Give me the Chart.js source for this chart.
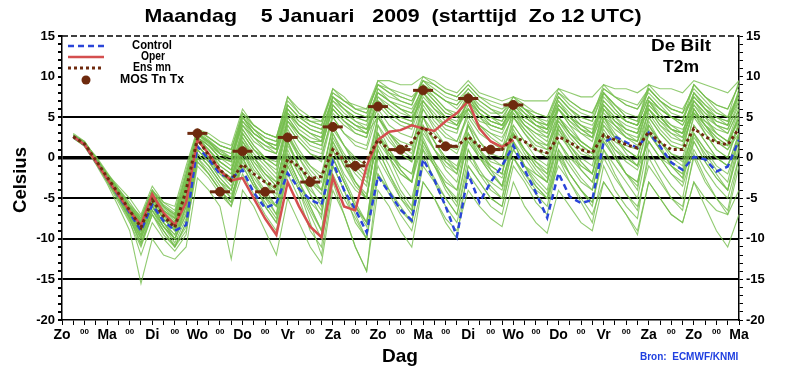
<!DOCTYPE html>
<html>
<head>
<meta charset="utf-8">
<script src="https://cdn.jsdelivr.net/npm/chart.js@4.4.1/dist/chart.umd.min.js"></script>
<style>
  body { margin: 0; background: #fff; }
  canvas { display: block; }
</style>
</head>
<body>
<canvas id="plume" width="800" height="376"></canvas>
<script>
// 6-hourly steps, step 0 = Zo 12 UTC, step 60 = Ma 12 UTC (15 days later)
const dayNames = ['Zo', 'Ma', 'Di', 'Wo', 'Do', 'Vr', 'Za', 'Zo', 'Ma', 'Di', 'Wo', 'Do', 'Vr', 'Za', 'Zo', 'Ma']
const yTicks = [15, 10, 5, 0, -5, -10, -15, -20]
const blackLines = [5, 0, -5, -10, -15]

// values for steps 1..60
const control = [2.6, 1.6, -0.5, -2.6, -4.7, -6.8, -9, -5.8, -7.8, -9, -8.3,
    1.4, -0.2, -2, -2.5, -1.5, -4.3, -6.2, -5.6, -1.9, -3.8, -5.2, -5.8,
    -0.5, -4, -6.4, -9.2, -2.3, -4.3, -6.4, -7.7, -0.2, -2.7, -6, -9.7,
    -2, -5.5, -3, -1, 1.5, -1.5, -4.3, -7.4, -1.9, -4.8, -5.6, -5.2,
    1.9, 2.6, 1.9, 1.2, 3.1, 1.4, -0.6, -1.5, 0.1, -0.2, -1.7, -1.1, 2.2]

// steps 1..40
const oper = [2.6, 1.6, -0.5, -2.6, -4.6, -6.6, -8.3, -4.5, -6.8, -8.3, -5.5,
    2.2, 0.5, -1.6, -2.8, -2.5, -5, -7.5, -9.5, -3, -6, -8.5, -9.8,
    -2.4, -6, -6.5, -1, 2.2, 3.2, 3.4, 4, 3.6, 3.3, 4.5, 5.5,
    7, 3.6, 2, 1.3, 2.2]

const ensMean = [2.6, 1.7, -0.3, -2.4, -4.4, -6.5, -8.6, -5.2, -7.2, -8.6, -4,
    2.4, 0.3, -1.5, -2.8, -0.8, -2, -3, -3.6, -0.2, -1.1, -2.6, -2.3,
    1, -0.3, -1.5, -0.3, 2.2, 1, 0.9, 1.9, 3.8, 2.6, 1.5, 1.4,
    2.6, 1.4, 1, 1, 2.6, 2, 1, 0.6, 2.6, 1.9, 1, 0.6,
    2.8, 2.2, 1.6, 1.2, 3.2, 1.9, 1, 1, 3.6, 2.6, 1.9, 1.6, 3.6]

const mosSteps = [12, 14, 16, 18, 20, 22, 24, 26, 28, 30, 32, 34, 36, 38, 40]
const mosValues = [3, -4.2, 0.8, -4.2, 2.5, -3, 3.8, -1, 6.3, 1, 8.3, 1.4, 7.3, 1, 6.5]

// ensemble members, steps 1..60
const m1 = [3, 2, 0, -2, -3.5, -5, -7, -3.5, -5.5, -6, -1, 3.5, 3, 2, 1.5, 6, 4, 3, 2.5, 7.5, 5.5, 4.5, 4.5, 8.5, 7.5, 6, 6, 9.5, 9.5, 9, 9, 10, 9.5, 8.5, 8, 9.5, 8, 7.5, 7, 7.5, 7, 7, 7, 8.5, 8, 7.5, 7.5, 9, 8.5, 8.5, 8, 9, 8.5, 8.5, 8, 9.5, 9, 8.5, 8, 9.5]
const m2 = [2.8, 1.8, 0.2, -1.8, -3.8, -5.5, -7.5, -4, -6, -7, -2, 3, 2, 1, 0, 5, 3.5, 2.5, 2, 6.5, 5, 4.5, 4, 8, 7, 6.5, 6, 9, 8.5, 8, 7.5, 9, 8, 7, 6, 8, 6, 5, 4, 6, 5, 4, 3.5, 7, 5.5, 4, 3, 6.5, 5, 3.5, 3, 7, 6, 5, 4.5, 8, 6.5, 5, 4.5, 7]
const m3 = [2.6, 1.5, -0.2, -2.2, -4, -6, -8, -4.5, -6.5, -7.5, -3, 3, 1.5, 0, -0.5, 4.5, 2.5, 1, 0.5, 5.5, 4, 3, 2.5, 7, 5.5, 4.5, 4, 8.5, 7.5, 7, 6.5, 9.5, 8, 7, 6.5, 8, 6.5, 5.5, 5.5, 7, 6, 4.5, 3.5, 7.5, 6, 5, 4.5, 8.5, 7.5, 6.5, 6, 8, 6.5, 5, 4, 6.5, 5, 4, 3, 6]
const m4 = [2.5, 1.6, -0.4, -2.5, -4.5, -6.5, -8.8, -5, -7, -8.5, -4, 2.5, 1, -1, -2, 3, 1, 0, -0.5, 4.5, 3, 2, 2, 6, 4.5, 3.5, 3, 7, 6, 5, 4.5, 8, 6.5, 5, 4, 6, 4, 3, 2.5, 5, 3.5, 2, 1.5, 4.5, 3, 2, 1, 5, 4, 3, 2.5, 6.5, 5, 4, 3.5, 5.5, 4, 3, 2, 4.5]
const m5 = [2.7, 1.7, -0.5, -2.7, -5, -7.5, -10, -6, -8, -10, -6, 1.5, 0, -2, -3, 1.5, -1, -3, -4, 2, -1, -3, -4, 3, 0.5, -1.5, -3, 5, 3, 1.5, 1, 7, 5, 4, 3.5, 6, 4.5, 4, 3.5, 6, 4.5, 3.5, 2.5, 6, 4, 2, 1, 4, 2.5, 1, 0, 5, 3, 1.5, 1, 6, 4, 2, 1, 4]
const m6 = [2.4, 1.5, -0.6, -3, -5.5, -8, -11, -7, -9, -11, -8, 0.5, -1, -3, -4.5, -1, -3.5, -5, -6, 0, -3, -5.5, -7, 1, -2, -4, -5, 3, 1, -1, -2, 4, 2, 0, -1, 3, 1, -0.5, -1, 3, 1, -1, -2, 3.5, 1, -1.5, -3, 2, 0, -2, -3, 3, 1, -0.5, -1.5, 4, 2, 0, -1, 3]
const m7 = [2.5, 1.4, -0.8, -3.2, -6, -9, -15.5, -10, -12, -12.5, -11, -2.5, -4, -6, -12.5, -4, -6, -9, -12, -5, -8, -11, -13, -4, -7, -11, -14, -2, -4, -6, -8, -1, -3, -5, -7, 0, -2, -3, -4, 1, -1, -2, -3, 2, 0, -1, -2, 3, 1, 0, -1, 2, 0, -1, -2, 3, 1, 0, -1, 2]
const m8 = [2.6, 1.6, -0.4, -2.8, -5, -7.5, -10.5, -6.5, -9, -11, -9, -1, -2.5, -4.5, -6, 0, -3, -6, -8, -2, -5, -9, -11, -1, -4, -8, -10, 1, -2, -5, -7, 2, -1, -4, -6, 1, -2, -4, -5, 2, 0, -2, -3, 3, 1, -1, -2, 4, 2, 1, 0, 5, 3, 1.5, 1, 6, 4, 2, 1.5, 5]
const m9 = [2.8, 1.9, -0.1, -2.2, -4.2, -6.2, -8, -5, -7, -8.5, -5, 1.5, 0, -1.5, -2.5, 2, 0, -1.5, -3, 2.5, 0, -2, -4, 0, -3, -6, -8, -1, -4, -6.5, -8, 0, -2.5, -5, -7, -1, -3, -5, -6, 0, -2, -4, -5, -1, -3, -5, -7, -3, -5, -7, -9, -3, -5, -7, -8, -3, -6, -9, -11, -7]
const m10 = [2.7, 1.8, -0.2, -2.3, -4.3, -6.3, -8.3, -5, -7, -8, -3.5, 2.5, 1.5, 0, -1, 3.5, 1.5, 0, -1, 4, 2, 0.5, -0.5, 5, 3, 2, 1.5, 6.5, 5, 4, 3.5, 7.5, 6, 4.5, 4, 7, 5, 3.5, 3, 6, 4.5, 3.5, 3, 6.5, 5, 4, 3.5, 7, 5.5, 4.5, 4, 6, 4.5, 3, 2, 5.5, 4.5, 3.5, 3, 6]
const m11 = [2.5, 1.5, -0.5, -2.6, -4.6, -6.8, -9, -5.5, -7.5, -9, -5, 2, 0.5, -1.5, -2.5, 2.5, 0, -2, -3.5, 3, 0, -2.5, -4, 2, -1, -3.5, -5, 3, 0, -2, -3, 4, 1, -1.5, -3, 3, 0.5, -1, -2, 4, 2, 0, -1, 5, 3, 1.5, 0.5, 6, 4, 2.5, 2, 7, 5, 3.5, 3, 8, 6, 4, 3.5, 7]
const m12 = [2.6, 1.7, -0.3, -2.4, -4.4, -6.4, -8.4, -5, -7, -8.5, -4.5, 2.5, 1.5, 0.5, 0, 4.5, 3, 2, 1.5, 6, 4.5, 3.5, 3, 7.5, 6.5, 5.5, 5, 9.5, 8.5, 7.5, 7, 9.5, 9, 8, 7.5, 9, 7.5, 7, 6.5, 7, 6, 5, 4.5, 8, 7, 6, 5.5, 8.5, 7.5, 7, 6.5, 8.5, 7, 6, 5.5, 7.5, 6, 5, 4.5, 8]
const m13 = [2.5, 1.6, -0.4, -2.5, -4.7, -7, -9.5, -6, -8, -9.5, -6, 1, -0.5, -2, -3, 1.5, -0.5, -2, -3, 2.5, 0.5, -1, -2, 3.5, 1.5, 0, -1, 5, 3, 2, 1.5, 6, 4, 2.5, 2, 5, 3, 2, 1, 4, 2, 1, 0.5, 5, 3.5, 2, 1, 6, 4.5, 3.5, 3, 7, 5.5, 4, 3, 5.5, 3.5, 2, 1, 3]
const m14 = [2.7, 1.8, -0.2, -2.2, -4.2, -6.1, -7.5, -4, -6, -7, -2.5, 3, 2, 0.5, 0, 5, 3, 2, 1.5, 5.5, 3.5, 2.5, 2, 6.5, 5, 4, 3.5, 8, 7, 6, 5.5, 9, 7.5, 6, 5.5, 7.5, 5.5, 4.5, 4, 6.5, 5, 4, 3.5, 7, 5, 4, 3, 8, 6, 4.5, 4, 8.5, 7, 6, 5.5, 9, 7.5, 6, 5, 9.5]
const m15 = [2.4, 1.4, -0.7, -2.9, -5.2, -7.8, -12, -8, -10, -11.5, -9.5, 0, -1.5, -3.5, -5, -0.5, -3, -5, -7, 0, -3, -6, -9, -2, -5, -7.5, -10, -2, -4.5, -7, -9, -3, -5, -7.5, -9, -4, -6, -7.5, -8.5, -3, -6, -8, -9.3, -4, -6, -8, -9, -3, -5, -7, -9.5, -3, -5, -7, -8, -3, -5, -6.5, -7, -4]
const m16 = [2.6, 1.7, -0.3, -2.5, -4.5, -6.6, -8.8, -5.5, -7.5, -9, -5.5, 1.5, 0, -2, -3.5, 1, -1.5, -3, -4.5, 1.5, -1, -3, -4.5, 2.5, 0, -2, -3.5, 4, 2, 0.5, -0.5, 5, 3, 1.5, 1, 6, 4, 3, 2, 5.5, 3.5, 2, 1, 4.5, 2.5, 1, 0, 3.5, 1.5, 0, -1, 4, 2, 0.5, 0, 5, 3, 1, 0, 4]
const m17 = [2.8, 2, 0, -2, -4, -6, -7.8, -4.5, -6.5, -7.5, -3, 3.5, 2.5, 1.5, 1, 5.5, 4, 3, 2.5, 7.5, 6, 5, 4.5, 8, 7, 6, 5.5, 9, 8, 7.5, 7, 9.5, 8.5, 7.5, 7, 8.5, 7, 6, 5, 7, 5.5, 4, 3, 6, 4.5, 3, 2.5, 7, 5.5, 4.5, 4, 7.5, 6, 5, 4, 7, 5.5, 4, 3.5, 6.5]
const m18 = [2.5, 1.5, -0.6, -2.8, -5, -7.2, -10, -6.5, -8.5, -10.5, -7.5, -0.5, -2, -4, -6, -2, -4.5, -7, -9, -1, -4, -7, -10, 0, -3, -6, -8, 2, 0, -2, -3, 3, 1, -1, -2, 4, 2, 0.5, 0, 5, 3, 1.5, 1, 6, 4, 3, 2, 6.5, 4.5, 3, 2, 5.5, 3.5, 2, 1.5, 6, 4, 2.5, 1.5, 5]
const m19 = [2.6, 1.7, -0.3, -2.4, -4.4, -6.5, -8.5, -5, -7, -8.5, -4, 2, 1, -0.5, -1.5, 3, 1, -0.5, -1.5, 4, 2, 0.5, 0, 5.5, 4, 3, 2.5, 7.5, 6, 5, 4.5, 8.5, 7, 5.5, 5, 8, 6, 5, 4.5, 7.5, 6, 5, 4, 6.5, 5, 3.5, 2.5, 5.5, 4, 2.5, 1.5, 4, 2, 0.5, -0.5, 3, 1, -1, -2, 2]
const m20 = [2.7, 1.7, -0.3, -2.3, -4.3, -6.4, -8.2, -5, -7, -8.2, -3.5, 2.5, 1, -0.5, -1.5, 3.5, 1.5, 0, -1, 4.5, 2.5, 1, 0.5, 5, 3, 1.5, 1, 5.5, 3, 1, 0, 5, 2, -0.5, -2, 3, 0, -2, -3.5, 2, -1, -3, -4.5, 1, -2, -4, -5.5, 0, -2.5, -4.5, -6, -1, -3, -5, -6, 0, -3, -5, -7, -1]
const m21 = [2.5, 1.5, -0.5, -2.7, -4.8, -7, -9.2, -6, -8, -10, -7, 0.5, -1, -3, -5, 0, -3, -6, -8, -1, -4, -8, -12, -3, -7, -11, -14, -4, -6, -9, -11, -3, -5, -8, -10, -1, -3, -5, -6, 0, -2, -3.5, -5, 1, -1, -3, -4, 2, 0, -2, -3, 3, 1, -1, -2, 4, 2, 0, -1, 3]
const m22 = [2.6, 1.6, -0.4, -2.4, -4.3, -6.2, -8, -4.8, -6.8, -8, -3.5, 3, 2, 1, 0.5, 4, 2.5, 1.5, 1, 5.5, 4, 3, 2.5, 6.5, 5, 4, 3.5, 7, 5.5, 4.5, 4, 8, 6, 5, 4, 7, 5.5, 4, 3.5, 5.5, 4, 3, 2, 6.5, 5, 3.5, 3, 8, 6.5, 5, 4.5, 8.5, 7, 5.5, 5, 7.5, 6, 5, 4, 7.5]
const m23 = [2.6, 1.7, -0.3, -2.5, -4.6, -6.7, -9, -5.5, -7.5, -9, -5, 1.5, 0, -1.5, -2.5, 2, -0.5, -2.5, -4, 2, -1, -3.5, -6, 1, -2.5, -5.5, -8, 1.5, -1, -4, -6, 2.5, -0.5, -3.5, -5, 4, 1, -1, -2, 5, 3, 1, 0, 4, 1.5, -0.5, -2, 3, 0.5, -2, -3.5, 4, 1.5, -1, -2.5, 3, 0, -2, -4, 1]
const m24 = [2.8, 1.9, 0, -2, -3.8, -5.8, -7.2, -4, -5.5, -6.5, -1.5, 3.5, 2.5, 1.5, 1, 5, 3.5, 2.5, 2, 7, 5.5, 4.5, 4, 8.5, 7, 6, 5.5, 9, 8, 7, 6.5, 10, 9, 8, 7.5, 9, 7.5, 6.5, 6, 7, 6, 5.5, 5, 8, 6.5, 5.5, 5, 9, 7.5, 6.5, 6, 8.5, 7, 6, 5.5, 9, 7.5, 6.5, 6, 9]
const m25 = [2.5, 1.6, -0.4, -2.6, -4.7, -6.9, -9.5, -6, -8.5, -10, -6.5, 1, -0.5, -2.5, -4, 0.5, -2, -4, -6, 0, -3, -6, -9, -1, -4, -7, -10, 0, -2.5, -5, -6.5, 1, -1, -3, -4, 2, 0, -1, -2, 3, 1, -0.5, -1.5, 4, 2, 0.5, 0, 5, 3, 1.5, 1, 6, 4, 2.5, 2, 7, 5, 3, 2, 6]
const m26 = [2.7, 1.8, -0.2, -2.3, -4.2, -6.2, -8, -5, -7, -8, -3, 2.5, 1.5, 0, -0.5, 4, 2, 1, 0.5, 5, 3, 2, 1.5, 6, 4.5, 3, 2.5, 7, 5.5, 4.5, 4, 8.5, 7, 5.5, 5, 7.5, 6, 5, 4.5, 6.5, 5.5, 4.5, 4, 7.5, 6, 5, 4.5, 8, 6.5, 5, 4.5, 9, 7.5, 6.5, 6, 8.5, 7, 5.5, 5, 8]
const m27 = [2.6, 1.6, -0.5, -2.7, -4.9, -7.2, -9.8, -6.5, -8.5, -10, -6, 0.5, -1, -3, -4, 0, -2.5, -4.5, -6, 0.5, -2, -4, -5.5, 1.5, -1, -3, -4.5, 2.5, 0.5, -1, -2, 3.5, 1, -0.5, -1.5, 2, 0, -1.5, -2.5, 1, -1, -2.5, -4, 2, 0, -1.5, -3, 3, 1, -0.5, -1.5, 2, 0, -2, -3.5, 1, -1.5, -3.5, -5, 0]
const m28 = [2.7, 1.8, -0.2, -2.2, -4.1, -6, -7.8, -4.5, -6.5, -7.8, -3, 3, 2, 0.5, 0, 4.5, 3, 2, 1.5, 6.5, 5, 4, 3.5, 7, 6, 5, 4.5, 8, 7, 6.5, 6, 8.5, 7.5, 6, 5, 6, 4, 2.5, 1.5, 3, 1, -0.5, -2, 3.5, 1.5, 0, -1, 5, 3.5, 2.5, 2, 6.5, 5, 3.5, 3, 7.5, 6, 4.5, 4, 8.5]
const m29 = [2.5, 1.5, -0.6, -2.8, -5, -7.4, -10.5, -7, -9.5, -11, -8, 0, -2, -4, -5.5, 1, -2, -4.5, -7, 2, -1.5, -4.5, -7.5, 3, 0, -3, -5, 4, 1, -1.5, -3, 5, 2, 0, -1.5, 4.5, 2, 0, -1, 3.5, 1, -1, -2.5, 4, 1.5, -0.5, -2, 5, 2.5, 0.5, -1, 4.5, 2, 0, -1, 5.5, 3, 1, 0, 4.5]
const m30 = [2.7, 1.8, -0.1, -2.1, -4, -6, -7.7, -4.2, -6, -7.2, -2.2, 3.2, 2.2, 1, 0.5, 5, 3, 2, 1, 6, 4.5, 3.5, 3, 7.5, 6, 5, 4.5, 8.5, 7, 6, 5.5, 8, 6.5, 5, 4.5, 7, 5.5, 4.5, 4, 6.5, 5, 4, 3.5, 6, 4.5, 3.5, 2.5, 7.5, 6, 4.5, 4, 7.5, 6, 5, 4.5, 8, 6.5, 5.5, 5, 7.5]
const m31 = [2.6, 1.7, -0.3, -2.4, -4.4, -6.5, -8.6, -5.5, -7.5, -8.8, -4.5, 2, 0.5, -1, -2, 3, 1, -0.5, -2, 3.5, 1, -1, -2.5, 4, 1.5, -1, -2.5, 3, 0, -3, -5, 1, -3, -6, -8, -2, -4, -6, -7, -1, -3, -5.5, -7, 0, -2, -4, -6, 1, -1, -3, -5, 2, 0, -2, -3, 2.5, 0.5, -1.5, -3, 3]
const m32 = [2.8, 1.9, 0, -2, -3.9, -5.9, -7.4, -4, -5.8, -6.8, -2, 3.3, 2.5, 1.5, 1, 5.5, 4, 3, 2.5, 6.5, 5, 4, 3.5, 7.5, 6.5, 5.5, 5, 8, 7, 6, 5, 9, 8, 7, 6.5, 8.5, 7, 6, 5.5, 7.5, 6.5, 5.5, 5, 8.5, 7, 6, 5.5, 8, 6.5, 5.5, 5, 7.5, 6, 5, 4.5, 9, 7.5, 6.5, 6, 9]
const m33 = [2.5, 1.5, -0.5, -2.6, -4.8, -7, -9.6, -6, -8.5, -10, -7, 1, -0.5, -2.5, -4, 1.5, -1, -3, -5, 1, -2, -4.5, -6.5, 2, -0.5, -3, -5, 3, 0.5, -1.5, -3, 2, -0.5, -2.5, -4, 2.5, 0, -2, -3.5, 3, 0.5, -1.5, -3, 2, -0.5, -2.5, -4, 2.5, 0, -2, -4, 3.5, 1, -1, -2.5, 2, -0.5, -2.5, -4, 1.5]
const m34 = [2.6, 1.6, -0.4, -2.5, -4.5, -6.6, -8.5, -5.2, -7.2, -8.7, -4.5, 2.2, 1, -0.5, -1.5, 2.5, 0.5, -1, -2.5, 5, 3, 1.5, 1, 6.5, 5, 4, 3, 5, 3, 1.5, 0.5, 6.5, 4.5, 3, 2, 5.5, 3.5, 2, 1, 6, 4, 3, 2.5, 5, 3, 1.5, 0.5, 4.5, 2.5, 1, 0, 6, 4, 3, 2.5, 6.5, 4.5, 3, 2, 5]
const m35 = [2.7, 1.8, -0.2, -2.2, -4.2, -6.2, -7.9, -4.4, -6.2, -7.4, -2.8, 3, 1.8, 0.5, -0.5, 5.5, 3.5, 2, 1, 6, 4, 3, 2, 7.5, 6, 4.5, 3.5, 6, 4, 3, 2.5, 7, 5, 3.5, 3, 7.5, 5.5, 4.5, 4, 6, 4, 2.5, 1.5, 5, 3, 1.5, 0.5, 6, 4.5, 3.5, 3, 7, 5, 3.5, 2.5, 6, 4, 2.5, 1.5, 5.5]
const m36 = [2.6, 1.6, -0.4, -2.6, -4.7, -6.8, -9, -5.8, -8, -9.5, -5.5, 1.5, 0, -1.5, -3, 2, 0, -2, -3.5, 3, 0.5, -1.5, -3, 4, 1.5, -0.5, -2, 5, 2.5, 0.5, -0.5, 6, 3.5, 1.5, 0.5, 4, 1, -1.5, -3.5, 2, -1, -3.5, -5, 0, -3, -5.5, -8, -1, -4, -6, -7.5, 1, -1.5, -3.5, -5, 2, -0.5, -2.5, -4, 2.5]
const m37 = [2.7, 1.7, -0.3, -2.3, -4.2, -6.3, -8.1, -4.8, -6.8, -8.1, -3.2, 2.8, 1.8, 0.8, 0, 4, 2.5, 1.5, 0.5, 4.5, 3, 2, 1.5, 6, 4.5, 3.5, 3, 7.5, 6.5, 5.5, 5, 7, 5.5, 4, 3.5, 6.5, 5, 4, 3.5, 7, 5.5, 4.5, 4, 7.5, 6, 4.5, 4, 6.5, 5, 4, 3.5, 6, 4.5, 3.5, 3, 7, 5.5, 4.5, 4, 8]
const m38 = [2.5, 1.5, -0.6, -2.8, -5.1, -7.5, -10.8, -7, -9, -10.8, -8.5, -0.5, -2, -4, -5.5, -1, -3.5, -5.5, -7.5, -0.5, -3.5, -6.5, -9, 0, -3, -6, -8.5, 1, -2, -4.5, -6.5, 1.5, -1, -3.5, -5.5, 1, -1.5, -3.5, -5, 0, -2.5, -4.5, -6, 0.5, -2, -4, -5.5, 1, -2, -4.5, -6.5, 0, -2.5, -5, -6.5, 0.5, -2.5, -5, -6.5, 0]

const members = [m1, m2, m3, m4, m5, m6, m7, m8, m9, m10, m11, m12, m13,
    m14, m15, m16, m17, m18, m19, m20, m21, m22, m23, m24, m25, m26,
    m27, m28, m29, m30, m31, m32, m33, m34, m35, m36, m37, m38]

function steps(values) {
    return values.map((v, k) => ({ x: k + 1, y: v }))
}

const FONT = 'Liberation Sans'
const BROWN = '#6e2a0e'

const memberSets = members.map(m => ({
    data: steps(m),
    borderColor: 'rgba(118, 190, 78, 0.8)',
    borderWidth: 1.1,
    pointRadius: 0,
    order: 10
}))

const mosPoints = mosSteps.map((s, k) => ({ x: s, y: mosValues[k] }))

// draws text at a fixed width (the original uses a narrow font)
function fitText(ctx, text, x, y, width) {
    const w = ctx.measureText(text).width
    ctx.save()
    ctx.translate(x, y)
    ctx.scale(width / w, 1)
    ctx.fillText(text, 0, 0)
    ctx.restore()
}

// texts, frame and legend
const decorations = {
    id: 'decorations',
    afterDraw(chart) {
        const ctx = chart.ctx
        const area = chart.chartArea
        ctx.save()
        // dashed top border
        ctx.strokeStyle = '#000'
        ctx.lineWidth = 1.5
        ctx.setLineDash([6, 3])
        ctx.beginPath()
        ctx.moveTo(area.left, area.top)
        ctx.lineTo(area.right, area.top)
        ctx.stroke()
        ctx.setLineDash([])

        ctx.fillStyle = '#000'
        ctx.textAlign = 'center'
        ctx.textBaseline = 'middle'
        ctx.font = 'bold 19px "' + FONT + '"'
        fitText(ctx, 'Maandag    5 Januari   2009  (starttijd  Zo 12 UTC)', 393, 17, 497)
        fitText(ctx, 'Dag', 400, 357, 36)
        ctx.save()
        ctx.translate(21, 180)
        ctx.rotate(-Math.PI / 2)
        fitText(ctx, 'Celsius', 0, 0, 66)
        ctx.restore()

        ctx.font = 'bold 16px "' + FONT + '"'
        fitText(ctx, 'De Bilt', 681, 47, 60)
        fitText(ctx, 'T2m', 681, 68, 36)

        ctx.fillStyle = '#1f3fe0'
        ctx.font = 'bold 10px "' + FONT + '"'
        ctx.textAlign = 'left'
        ctx.fillText('Bron:  ECMWF/KNMI', 640, 357)

        // legend
        const lx0 = 68, lx1 = 104
        ctx.lineWidth = 2.5
        ctx.strokeStyle = '#2a45d8'
        ctx.setLineDash([6, 4])
        ctx.beginPath(); ctx.moveTo(lx0, 46); ctx.lineTo(lx1, 46); ctx.stroke()
        ctx.strokeStyle = '#d44f4f'
        ctx.setLineDash([])
        ctx.beginPath(); ctx.moveTo(lx0, 57); ctx.lineTo(lx1, 57); ctx.stroke()
        ctx.strokeStyle = BROWN
        ctx.lineWidth = 3
        ctx.setLineDash([3, 3])
        ctx.beginPath(); ctx.moveTo(lx0, 68); ctx.lineTo(lx1, 68); ctx.stroke()
        ctx.setLineDash([])
        ctx.fillStyle = BROWN
        ctx.beginPath(); ctx.arc(86, 80, 4.5, 0, Math.PI * 2); ctx.fill()

        ctx.fillStyle = '#000'
        ctx.textAlign = 'center'
        ctx.font = 'bold 12px "' + FONT + '"'
        fitText(ctx, 'Control', 152, 46, 40)
        fitText(ctx, 'Oper', 153, 57, 24)
        fitText(ctx, 'Ens mn', 152, 68, 38)
        fitText(ctx, 'MOS Tn Tx', 152, 80, 64)
        ctx.restore()
    }
}

const yAxisBase = {
    type: 'linear',
    min: -20,
    max: 15,
    ticks: {
        stepSize: 1,
        autoSkip: false,
        color: '#000',
        font: { family: FONT, size: 13, weight: 'bold' },
        padding: 3,
        callback: v => (yTicks.includes(v) ? String(v) : '')
    },
    border: { display: true, color: '#000', width: 1.5 }
}

new Chart(document.getElementById('plume').getContext('2d'), {
    type: 'line',
    data: {
        datasets: [
            {
                data: mosPoints,
                showLine: false,
                pointStyle: 'circle',
                pointRadius: 4.5,
                pointBackgroundColor: BROWN,
                pointBorderColor: BROWN,
                order: 0
            },
            {
                data: mosPoints,
                showLine: false,
                pointStyle: 'line',
                pointRadius: 10,
                pointBorderWidth: 3,
                pointBorderColor: BROWN,
                order: 0
            },
            {
                data: steps(ensMean),
                borderColor: BROWN,
                borderWidth: 3,
                borderDash: [3, 3],
                pointRadius: 0,
                order: 1
            },
            {
                data: steps(oper),
                borderColor: '#d44f4f',
                borderWidth: 2.5,
                pointRadius: 0,
                order: 2
            },
            {
                data: steps(control),
                borderColor: '#2a45d8',
                borderWidth: 2.5,
                borderDash: [6, 4],
                pointRadius: 0,
                order: 3
            },
            ...memberSets
        ]
    },
    options: {
        responsive: false,
        animation: false,
        devicePixelRatio: 1,
        layout: { padding: { top: 36, left: 0, right: 0, bottom: 0 } },
        plugins: {
            legend: { display: false },
            tooltip: { enabled: false },
            title: { display: false }
        },
        scales: {
            x: {
                type: 'linear',
                min: 0,
                max: 60,
                ticks: {
                    stepSize: 1,
                    autoSkip: false,
                    maxRotation: 0,
                    color: '#000',
                    padding: 2,
                    font: c => (c.tick && c.tick.value % 4 === 2)
                        ? { family: FONT, size: 8, weight: 'bold' }
                        : { family: FONT, size: 14, weight: 'bold' },
                    callback: v => (v % 4 === 0 ? dayNames[v / 4] : (v % 4 === 2 ? '00' : ''))
                },
                grid: { drawOnChartArea: false, tickLength: 5, color: '#000' },
                border: { display: true, color: '#000', width: 1.5 },
                afterFit: s => { s.height = 56 }
            },
            y: {
                ...yAxisBase,
                position: 'left',
                grid: {
                    color: c => (blackLines.includes(c.tick.value) ? '#000' : 'rgba(0,0,0,0)'),
                    lineWidth: c => (c.tick.value === 0 ? 3.5 : 2),
                    tickColor: '#000',
                    tickLength: 4
                },
                afterFit: s => { s.width = 62 }
            },
            y2: {
                ...yAxisBase,
                position: 'right',
                grid: { drawOnChartArea: false, tickColor: '#000', tickLength: 4 },
                afterFit: s => { s.width = 61 }
            }
        }
    },
    plugins: [decorations]
})
</script>
</body>
</html>
